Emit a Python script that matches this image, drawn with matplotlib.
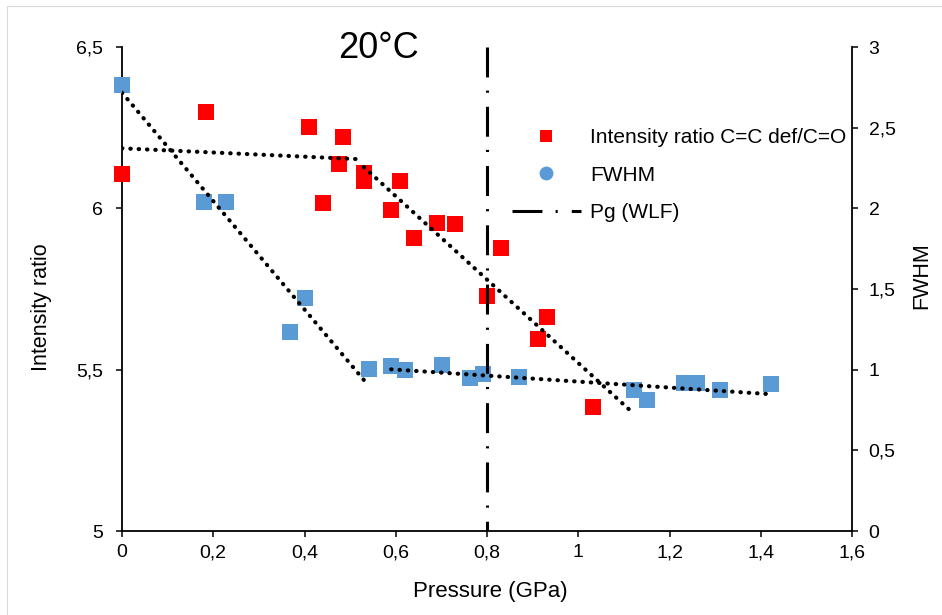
import matplotlib
matplotlib.use('Agg')
import matplotlib.pyplot as plt
from matplotlib.lines import Line2D
from matplotlib.patches import Rectangle

plt.rcParams['font.family'] = ['Liberation Sans', 'DejaVu Sans']

# ---- data ----
pressure_ratio = [0.0, 0.184, 0.409, 0.484, 0.475, 0.440, 0.530, 0.530, 0.609,
                  0.590, 0.640, 0.691, 0.729, 0.831, 0.800, 0.931, 0.911, 1.032]
intensity_ratio = [6.106, 6.300, 6.252, 6.221, 6.137, 6.016, 6.110, 6.085, 6.086,
                   5.995, 5.907, 5.954, 5.951, 5.876, 5.728, 5.662, 5.595, 5.385]

pressure_fwhm = [0.0, 0.179, 0.229, 0.369, 0.400, 0.541, 0.590, 0.621, 0.701,
                 0.762, 0.791, 0.871, 1.123, 1.150, 1.232, 1.261, 1.311, 1.422]
fwhm = [2.765, 2.042, 2.042, 1.236, 1.443, 1.002, 1.023, 0.998, 1.029,
        0.946, 0.971, 0.956, 0.874, 0.810, 0.915, 0.919, 0.874, 0.911]

# trend lines (end points)
trend_ratio_a_x = [0.0, 0.525]
trend_ratio_a_y = [6.186, 6.152]
trend_ratio_b_x = [0.530, 1.119]
trend_ratio_b_y = [6.128, 5.367]
trend_fwhm_a_x = [0.0, 0.537]
trend_fwhm_a_y = [2.717, 0.913]
trend_fwhm_b_x = [0.590, 1.422]
trend_fwhm_b_y = [1.002, 0.848]

pg_pressure = 0.8

x_ticks = [0, 0.2, 0.4, 0.6, 0.8, 1.0, 1.2, 1.4, 1.6]
x_tick_labels = ['0', '0,2', '0,4', '0,6', '0,8', '1', '1,2', '1,4', '1,6']
ratio_ticks = [5, 5.5, 6, 6.5]
ratio_tick_labels = ['5', '5,5', '6', '6,5']
fwhm_ticks = [0, 0.5, 1, 1.5, 2, 2.5, 3]
fwhm_tick_labels = ['0', '0,5', '1', '1,5', '2', '2,5', '3']

label_ratio = 'Intensity ratio C=C def/C=O'
label_fwhm = 'FWHM'
label_pg = 'Pg (WLF)'

RED = '#FF0000'
BLUE = '#5B9BD5'

# ---- figure ----
W, H = 942, 615
fig = plt.figure(figsize=(W / 100, H / 100), dpi=100)
L, R, T, B = 122, 852, 47, 531
ax = fig.add_axes([L / W, 1 - B / H, (R - L) / W, (B - T) / H])
ax2 = ax.twinx()

# chart-area border (light grey, top and left edges visible)
fig.add_artist(Rectangle((7 / W, -0.2), 2.0, 0.2 + 1 - 6 / H,
                         transform=fig.transFigure, fill=False,
                         edgecolor='#D9D9D9', linewidth=0.8))

dotted = dict(color='black', linewidth=3.0, linestyle=(0, (0.1, 1.9)),
              dash_capstyle='round')
dashdot = (0, (9.8, 4.3, 0.7, 4.6))

# left axis: intensity ratio
ax.plot(pressure_ratio, intensity_ratio, ls='none', marker='s', markersize=11,
        color=RED, markeredgewidth=0, zorder=3, clip_on=False)
ax.plot(trend_ratio_a_x, trend_ratio_a_y, zorder=4, **dotted)
ax.plot(trend_ratio_b_x, trend_ratio_b_y, zorder=4, **dotted)

# right axis: FWHM
ax2.plot(pressure_fwhm, fwhm, ls='none', marker='s', markersize=11,
         color=BLUE, markeredgewidth=0, zorder=3, clip_on=False)
ax2.plot(trend_fwhm_a_x, trend_fwhm_a_y, zorder=4, **dotted)
ax2.plot(trend_fwhm_b_x, trend_fwhm_b_y, zorder=4, **dotted)
ax2.axvline(pg_pressure, ymin=1, ymax=0, color='black', linewidth=2.2,
            linestyle=dashdot, dash_capstyle='butt', zorder=5)

ax.set_xlim(0, 1.6)
ax.set_ylim(5, 6.5)
ax2.set_ylim(0, 3)

ax.set_xticks(x_ticks)
ax.set_xticklabels(x_tick_labels)
ax.set_yticks(ratio_ticks)
ax.set_yticklabels(ratio_tick_labels)
ax2.set_yticks(fwhm_ticks)
ax2.set_yticklabels(fwhm_tick_labels)

for a in (ax, ax2):
    a.spines['top'].set_visible(False)
    for s in a.spines.values():
        s.set_linewidth(1.3)
        s.set_color('black')
ax.spines['right'].set_visible(False)
ax2.spines['left'].set_visible(False)
ax2.spines['bottom'].set_visible(False)

ax.tick_params(axis='x', direction='out', length=4.5, width=1.1, pad=5,
               labelsize=14, colors='black')
ax.tick_params(axis='y', direction='out', length=4.5, width=1.1, pad=9,
               labelsize=14, colors='black')
ax2.tick_params(axis='y', direction='out', length=4.5, width=1.1, pad=7.5,
                labelsize=14, colors='black')

ax.set_xlabel('Pressure (GPa)', fontsize=16)
ax.xaxis.set_label_coords((490 - L) / (R - L), (B - 592) / (B - T))
ax.xaxis.label.set_va('center')

ax.set_ylabel('Intensity ratio', fontsize=15.5)
ax.yaxis.set_label_coords((42 - L) / (R - L), (B - 307) / (B - T))
ax.yaxis.label.set_va('center')

ax2.set_ylabel('FWHM', fontsize=15.5)
ax2.yaxis.set_label_coords((922 - L) / (R - L), (B - 276) / (B - T))
ax2.yaxis.label.set_va('center')

ax.text((379 - L) / (R - L), (B - 58) / (B - T), '20°C', fontsize=26,
        ha='center', va='baseline', transform=ax.transAxes)

handles = [
    Line2D([], [], ls='none', marker='s', markersize=9, color=RED,
           markeredgewidth=0),
    Line2D([], [], ls='none', marker='o', markersize=10, color=BLUE,
           markeredgewidth=0),
    Line2D([], [], color='black', linewidth=2.2, linestyle=dashdot,
           dash_capstyle='butt'),
]
leg = ax2.legend(handles, [label_ratio, label_fwhm, label_pg], loc='upper left',
                 bbox_to_anchor=((512 - L) / (R - L), (B - 128) / (B - T)),
                 frameon=False, fontsize=15, handlelength=3.3,
                 handletextpad=0.45, labelspacing=0.9, borderpad=0,
                 borderaxespad=0)

fig.savefig('out.png', dpi=100)
